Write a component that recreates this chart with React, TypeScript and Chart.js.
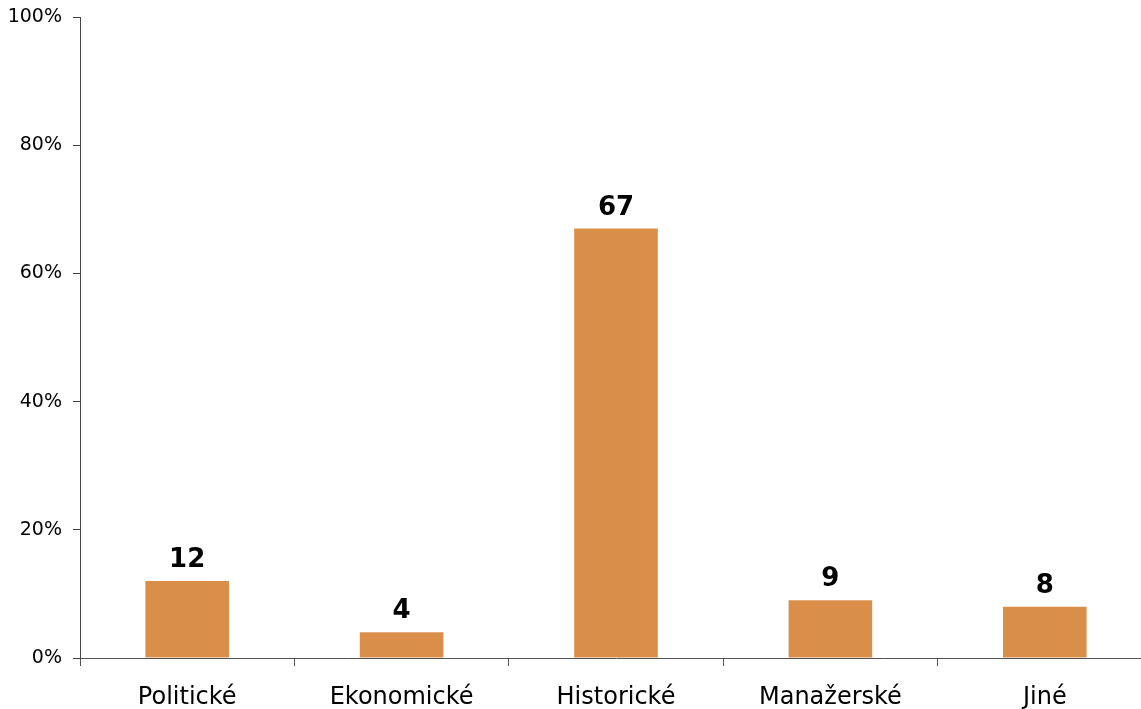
import React, { useEffect, useRef } from "react";
import { Chart, registerables } from "chart.js";

Chart.register(...registerables);

const categories = ["Politické", "Ekonomické", "Historické", "Manažerské", "Jiné"];
const values = [12, 4, 67, 9, 8];
const yTicks = [0, 20, 40, 60, 80, 100];

const FONT = "'DejaVu Sans', Verdana, sans-serif";

const labelPlugin = {
  id: "barLabels",
  afterDatasetsDraw(chart: any) {
    const ctx = chart.ctx;
    const meta = chart.getDatasetMeta(0);
    ctx.save();
    ctx.font = `bold 26px ${FONT}`;
    ctx.fillStyle = "#000";
    ctx.textAlign = "center";
    ctx.textBaseline = "alphabetic";
    meta.data.forEach((bar: any, i: number) => {
      ctx.fillText(String(values[i]), bar.x, bar.y - 14);
    });
    ctx.restore();
  },
};

const W = 1152;
const H = 709;

export default function App() {
  const ref = useRef<HTMLCanvasElement>(null);
  useEffect(() => {
    document.body.style.margin = "0";
    document.body.style.overflow = "hidden";
    const chart = new Chart(ref.current!, {
      type: "bar",
      data: {
        labels: categories,
        datasets: [
          {
            data: values,
            backgroundColor: "#D98F4A",
            categoryPercentage: 1,
            barPercentage: 0.39,
          },
        ],
      },
      options: {
        animation: false,
        responsive: false,
        maintainAspectRatio: false,
        layout: { padding: { top: 0, right: 0, left: 0, bottom: 0 } },
        plugins: { legend: { display: false }, tooltip: { enabled: false } },
        scales: {
          x: {
            afterFit(scale: any) {
              scale.height = 51;
            },
            grid: {
              offset: true,
              drawOnChartArea: false,
              tickLength: 8,
              color: "#555",
            },
            border: { color: "#555", width: 1 },
            ticks: {
              font: { family: FONT, size: 24 },
              color: "#000",
              padding: 17,
              maxRotation: 0,
            },
          },
          y: {
            min: 0,
            max: 100,
            afterFit(scale: any) {
              scale.width = 80;
              scale.paddingTop = 17;
            },
            afterBuildTicks(scale: any) {
              scale.ticks = yTicks.map((v) => ({ value: v }));
            },
            grid: { drawOnChartArea: false, tickLength: 7, color: "#444" },
            border: { color: "#444", width: 1 },
            ticks: {
              font: { family: FONT, size: 19 },
              color: "#000",
              padding: 11,
              callback: (v: any) => `${v}%`,
            },
          },
        },
      },
      plugins: [labelPlugin],
    });
    return () => chart.destroy();
  }, []);
  return (
    <div style={{ position: "fixed", left: 0, top: 0, width: 1141, height: H, overflow: "hidden", background: "#fff" }}>
      <canvas ref={ref} width={W} height={H} style={{ width: W, height: H, display: "block" }} />
    </div>
  );
}
